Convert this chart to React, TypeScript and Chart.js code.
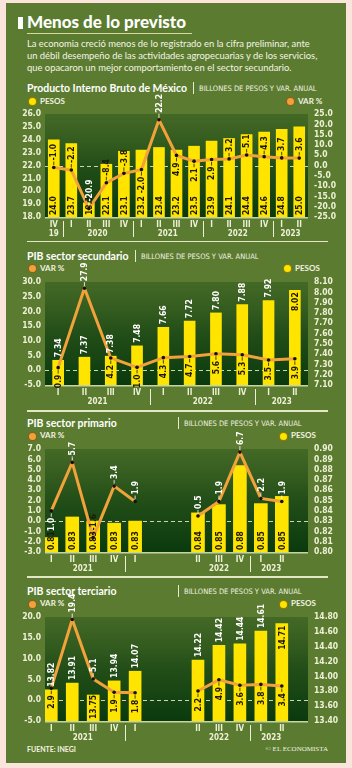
import React, { useEffect, useRef } from 'react';
import { Chart, registerables } from 'chart.js';
Chart.register(...registerables);

const W = 352;
const YELLOW = '#ffe400';
const ORANGE = '#f2a23a';
const PANEL = '#5b7c30';
const PINK = '#fae4dc';
const CREAM = '#eef0d6';
const DARK = '#1d1a08';
const NARROW = "'Liberation Sans Narrow', 'DejaVu Sans Condensed', 'Arial Narrow', sans-serif";
const LATO = "Lato, 'Open Sans', 'Noto Sans', sans-serif";

// ---------- PIB total ----------
const pibQuarters = ['IV', 'I', 'II', 'III', 'IV', 'I', 'II', 'III', 'IV', 'I', 'II', 'III', 'IV', 'I', 'II'];
const pibYears = ['19', '2020', '2021', '2022', '2023'];
const pibYearFrom = [0, 1, 5, 9, 13];
const pibYearTo = [0, 4, 8, 12, 14];
const pibSeparators = [0.5, 4.5, 8.5, 12.5];
const pibPesos = [24.0, 23.7, 19.1, 22.1, 23.1, 23.2, 23.4, 23.2, 23.5, 23.9, 24.1, 24.4, 24.6, 24.8, 25.0];
const pibVar = [-1.0, -2.2, -20.9, -8.4, -3.8, -2.0, 22.2, 4.9, 2.1, 2.9, 3.2, 5.1, 4.3, 3.7, 3.6];
const pibPesosTicks = [18, 26, 1];
const pibVarTicks = [-25, 25, 5];

// ---------- Secundario ----------
const secQuarters = ['I', 'II', 'III', 'IV', 'I', 'II', 'III', 'IV', 'I', 'II'];
const secYears = ['2021', '2022', '2023'];
const secYearFrom = [0, 4, 8];
const secYearTo = [3, 7, 9];
const secSeparators = [3.5, 7.5];
const secPesos = [7.34, 7.37, 7.38, 7.48, 7.66, 7.72, 7.80, 7.88, 7.92, 8.02];
const secVar = [0.9, 27.9, 4.2, 1.0, 4.3, 4.7, 5.6, 5.3, 3.5, 3.9];
const secVarTicks = [-5, 30, 5];
const secPesosTicks = [7.1, 8.1, 0.1];

// ---------- Primario ----------
const priQuarters = ['I', 'II', 'III', 'IV', 'I', 'II', 'III', 'IV', 'I', 'II'];
const priSlots = [0, 1, 2, 3, 4, 7, 8, 9, 10, 11];
const priYears = ['2021', '2022', '2023'];
const priYearFrom = [0, 7, 10];
const priYearTo = [3, 9, 11];
const priSeparators = [3.5, 9.5];
const priPesos = [0.814, 0.834, 0.830, 0.828, 0.830, 0.838, 0.846, 0.884, 0.847, 0.854];
const priVar = [1.0, 5.7, -1.6, 3.4, 1.9, 0.5, 1.9, 6.7, 2.2, 1.9];
const priVarTicks = [-3, 7, 1];
const priPesosTicks = [0.8, 0.9, 0.01];

// ---------- Terciario ----------
const terQuarters = ['I', 'II', 'III', 'IV', 'I', 'II', 'III', 'IV', 'I', 'II'];
const terSlots = [0, 1, 2, 3, 4, 7, 8, 9, 10, 11];
const terYears = ['2021', '2022', '2023'];
const terYearFrom = [0, 7, 10];
const terYearTo = [3, 9, 11];
const terSeparators = [3.5, 9.5];
const terPesos = [13.82, 13.91, 13.75, 13.94, 14.07, 14.22, 14.42, 14.44, 14.61, 14.71];
const terVar = [2.9, 19.4, 5.1, 1.9, 1.8, 2.2, 4.9, 3.6, 3.8, 3.4];
const terVarTicks = [-5, 20, 5];
const terPesosTicks = [13.4, 14.8, 0.2];

const slotRange: [number, number] = [-0.3, 12.25];

type Cfg = {
  top: number; plotH: number;
  quarters: string[]; slots: number[] | null;
  years: string[]; yearFrom: number[]; yearTo: number[]; seps: number[];
  pesos: number[]; pesosDec: number; pesosTicks: number[]; pesosSide: 'left' | 'right';
  vari: number[]; varTicks: number[];
  barW: number; barPos: string[]; varPos: string[];
};

const cfgs: Cfg[] = [
  {
    top: 114, plotH: 103, quarters: pibQuarters, slots: null,
    years: pibYears, yearFrom: pibYearFrom, yearTo: pibYearTo, seps: pibSeparators,
    pesos: pibPesos, pesosDec: 1, pesosTicks: pibPesosTicks, pesosSide: 'left',
    vari: pibVar, varTicks: pibVarTicks, barW: 11,
    barPos: pibPesos.map(() => 'base'),
    varPos: ['above', 'above', 'above', 'above', 'above', 'below', 'above', 'below', 'below', 'below', 'above', 'above', 'above', 'above', 'above'],
  },
  {
    top: 282, plotH: 103, quarters: secQuarters, slots: null,
    years: secYears, yearFrom: secYearFrom, yearTo: secYearTo, seps: secSeparators,
    pesos: secPesos, pesosDec: 2, pesosTicks: secPesosTicks, pesosSide: 'right',
    vari: secVar, varTicks: secVarTicks, barW: 11,
    barPos: ['above', 'above', 'above', 'above', 'above', 'above', 'above', 'above', 'above', 'top'],
    varPos: ['below', 'above', 'below', 'below', 'below', 'below', 'below', 'below', 'below', 'below'],
  },
  {
    top: 449, plotH: 103, quarters: priQuarters, slots: priSlots,
    years: priYears, yearFrom: priYearFrom, yearTo: priYearTo, seps: priSeparators,
    pesos: priPesos, pesosDec: 2, pesosTicks: priPesosTicks, pesosSide: 'right',
    vari: priVar, varTicks: priVarTicks, barW: 13,
    barPos: priPesos.map(() => 'base'),
    varPos: ['below', 'above', 'above', 'above', 'above', 'above', 'above', 'above', 'above', 'above'],
  },
  {
    top: 617, plotH: 104, quarters: terQuarters, slots: terSlots,
    years: terYears, yearFrom: terYearFrom, yearTo: terYearTo, seps: terSeparators,
    pesos: terPesos, pesosDec: 2, pesosTicks: terPesosTicks, pesosSide: 'right',
    vari: terVar, varTicks: terVarTicks, barW: 12,
    barPos: ['above', 'above', 'base', 'above', 'above', 'above', 'above', 'above', 'above', 'top'],
    varPos: ['below', 'above', 'above', 'below', 'below', 'below', 'below', 'below', 'below', 'below'],
  },
];

const PAD_T = 30;
const PAD_B = 28;

function vText(ctx: CanvasRenderingContext2D, txt: string, x: number, y: number, align: CanvasTextAlign, color: string) {
  ctx.save();
  ctx.translate(x, y);
  ctx.rotate(-Math.PI / 2);
  ctx.textAlign = align;
  ctx.textBaseline = 'middle';
  ctx.fillStyle = color;
  ctx.fillText(txt, 0, 0.5);
  ctx.restore();
}

function makePlugin(s: Cfg) {
  return {
    id: 'deco',
    beforeDraw(chart: any) {
      const { ctx, chartArea: a } = chart;
      ctx.save();
      const g = ctx.createLinearGradient(0, a.top, 0, a.bottom);
      g.addColorStop(0, 'rgba(40,82,26,0.45)');
      g.addColorStop(0.5, 'rgba(20,66,18,0.8)');
      g.addColorStop(1, '#0a3a0e');
      ctx.fillStyle = g;
      ctx.fillRect(a.left, a.top, a.right - a.left, a.bottom - a.top);
      ctx.restore();
    },
    beforeDatasetsDraw(chart: any) {
      const { ctx, chartArea: a } = chart;
      const y0 = Math.round(chart.scales.yV.getPixelForValue(0)) + 0.5;
      ctx.save();
      ctx.strokeStyle = '#c9d6ae';
      ctx.lineWidth = 1;
      ctx.setLineDash([4, 3]);
      ctx.beginPath();
      ctx.moveTo(a.left, y0);
      ctx.lineTo(a.right, y0);
      ctx.stroke();
      ctx.restore();
    },
    afterDatasetsDraw(chart: any) {
      const { ctx, chartArea: a } = chart;
      const barMeta = chart.getDatasetMeta(0);
      const lineMeta = chart.getDatasetMeta(1);
      ctx.save();
      // bottom axis line
      ctx.strokeStyle = '#c8d5a0';
      ctx.lineWidth = 1.5;
      ctx.beginPath();
      ctx.moveTo(a.left, a.bottom + 0.75);
      ctx.lineTo(a.right, a.bottom + 0.75);
      ctx.stroke();

      ctx.font = `bold 8.5px ${NARROW}`;
      const pick = (lo: number, hi: number, bar: any) => {
        const top = bar.y;
        const base = Math.min(bar.base, a.bottom);
        const ov = Math.max(0, Math.min(hi, base) - Math.max(lo, top));
        return ov > (hi - lo) / 2 ? DARK : '#ffffff';
      };
      s.pesos.forEach((v, i) => {
        const el = barMeta.data[i];
        const txt = v.toFixed(s.pesosDec);
        const w = ctx.measureText(txt).width;
        const base = Math.min(el.base, a.bottom);
        const pos = s.barPos[i];
        let y0: number, lo: number, hi: number, align: CanvasTextAlign;
        if (pos === 'base') { y0 = base - 2; lo = y0 - w; hi = y0; align = 'left'; }
        else if (pos === 'above') { y0 = el.y - 3; lo = y0 - w; hi = y0; align = 'left'; }
        else { y0 = el.y + 2; lo = y0; hi = y0 + w; align = 'right'; }
        vText(ctx, txt, el.x, y0, align, pick(lo, hi, el));
      });
      s.vari.forEach((v, i) => {
        const p = lineMeta.data[i];
        const bar = barMeta.data[i];
        const txt = v.toFixed(1);
        const w = ctx.measureText(txt).width;
        let y0: number, lo: number, hi: number, align: CanvasTextAlign, l1: number, l2: number;
        if (s.varPos[i] === 'above') { l1 = p.y - 2.5; l2 = p.y - 6; y0 = p.y - 7; lo = y0 - w; hi = p.y - 2; align = 'left'; }
        else { l1 = p.y + 2.5; l2 = p.y + 6; y0 = p.y + 7; lo = p.y + 2; hi = y0 + w; align = 'right'; }
        const col = pick(lo, hi, bar);
        ctx.strokeStyle = col;
        ctx.lineWidth = 0.8;
        ctx.beginPath();
        ctx.moveTo(p.x, l1);
        ctx.lineTo(p.x, l2);
        ctx.stroke();
        vText(ctx, txt, p.x, y0, align, col);
      });

      // x labels
      const xs = chart.scales.x;
      const b = a.bottom;
      ctx.font = `bold 8px ${NARROW}`;
      ctx.fillStyle = CREAM;
      ctx.textAlign = 'center';
      ctx.textBaseline = 'middle';
      s.quarters.forEach((q, i) => {
        const px = xs.getPixelForValue(s.slots ? s.slots[i] : i);
        ctx.fillText(q, px, b + 7.5);
      });
      s.years.forEach((yl, i) => {
        const px = xs.getPixelForValue((s.yearFrom[i] + s.yearTo[i]) / 2);
        ctx.fillText(yl, px, b + 16.5);
      });
      ctx.strokeStyle = CREAM;
      ctx.lineWidth = 1;
      s.seps.forEach((sp) => {
        const px = Math.round(xs.getPixelForValue(sp)) + 0.5;
        ctx.beginPath();
        ctx.moveTo(px, b + 4);
        ctx.lineTo(px, b + 20);
        ctx.stroke();
      });
      ctx.restore();
    },
  };
}

function ComboChart({ s }: { s: Cfg }) {
  const ref = useRef<HTMLCanvasElement>(null);
  const H = PAD_T + s.plotH + PAD_B;
  useEffect(() => {
    if (!ref.current) return;
    const barData = s.slots ? s.pesos.map((v, i) => ({ x: s.slots![i], y: v })) : s.pesos;
    const lineData = s.slots ? s.vari.map((v, i) => ({ x: s.slots![i], y: v })) : s.vari;
    const tickFont = { family: NARROW, size: 8.5, weight: 'bold' as const };
    const pDec = s.pesosDec;
    const yP: any = {
      position: s.pesosSide, min: s.pesosTicks[0], max: s.pesosTicks[1], beginAtZero: false,
      ticks: { stepSize: s.pesosTicks[2], autoSkip: false, color: CREAM, font: tickFont, padding: s.pesosSide === 'left' ? 4 : 6, callback: (v: any) => Number(v).toFixed(pDec) },
      grid: { display: false, drawTicks: false }, border: { display: false },
      afterFit: (sc: any) => { sc.width = s.pesosSide === 'left' ? 45 : 44; },
    };
    const yV: any = {
      position: s.pesosSide === 'left' ? 'right' : 'left', min: s.varTicks[0], max: s.varTicks[1], beginAtZero: false,
      ticks: { stepSize: s.varTicks[2], autoSkip: false, color: CREAM, font: tickFont, padding: s.pesosSide === 'left' ? 6 : 4, callback: (v: any) => Number(v).toFixed(1) },
      grid: { display: false, drawTicks: false }, border: { display: false },
      afterFit: (sc: any) => { sc.width = s.pesosSide === 'left' ? 44 : 45; },
    };
    const x: any = s.slots
      ? { type: 'linear', min: slotRange[0], max: slotRange[1], offset: false, display: false }
      : { type: 'category', offset: true, display: false };
    const chart = new Chart(ref.current, {
      type: 'bar',
      data: {
        labels: s.quarters,
        datasets: [
          {
            type: 'bar', data: barData as any, yAxisID: 'yP', backgroundColor: YELLOW,
            barThickness: s.barW, base: s.pesosTicks[0], order: 2, borderWidth: 0,
          } as any,
          {
            type: 'line', data: lineData as any, yAxisID: 'yV', borderColor: ORANGE, borderWidth: 3,
            pointRadius: 1.8, pointBackgroundColor: '#111111', pointBorderWidth: 0, tension: 0, order: 1,
            segment: { borderColor: (c: any) => (c.p1.parsed.x - c.p0.parsed.x > 1.5 ? 'rgba(0,0,0,0)' : ORANGE) },
          } as any,
        ],
      },
      options: {
        responsive: false,
        animation: false,
        devicePixelRatio: 1,
        layout: { padding: { top: PAD_T, bottom: PAD_B, left: 0, right: 0 } },
        plugins: { legend: { display: false }, tooltip: { enabled: false } },
        scales: { x, yP, yV },
      },
      plugins: [makePlugin(s)],
    });
    return () => chart.destroy();
  }, []);
  return (
    <canvas ref={ref} width={W} height={H}
      style={{ position: 'absolute', left: 0, top: s.top - PAD_T, width: W, height: H }} />
  );
}

function Txt(props: { x: number; y: number; s: number; w?: number; f?: string; c?: string; right?: boolean; ls?: number; children: any }) {
  const { x, y, s, w = 400, f = LATO, c = '#ffffff', right = false, ls = 0 } = props;
  return (
    <div style={{
      position: 'absolute', left: right ? undefined : x, right: right ? W - x : undefined,
      top: y - s * 0.6, fontSize: s, lineHeight: `${s * 1.2}px`, fontWeight: w, fontFamily: f,
      color: c, whiteSpace: 'nowrap', letterSpacing: ls,
    }}>{props.children}</div>
  );
}

function Dot({ x, y, c }: { x: number; y: number; c: string }) {
  return <div style={{ position: 'absolute', left: x - 4.5, top: y - 4.5, width: 9, height: 9, borderRadius: '50%', background: c, boxSizing: 'border-box', border: '1px solid rgba(60,40,0,0.55)' }} />;
}

function Legend({ y, pesosLeft, rightX }: { y: number; pesosLeft: boolean; rightX: number }) {
  const lc = pesosLeft ? YELLOW : ORANGE;
  const rc = pesosLeft ? ORANGE : YELLOW;
  const lt = pesosLeft ? 'PESOS' : 'VAR %';
  const rt = pesosLeft ? 'VAR %' : 'PESOS';
  return (
    <>
      <Dot x={32} y={y} c={lc} />
      <Txt x={40} y={y} s={8} w={700} c="#f4f2e2">{lt}</Txt>
      <Dot x={rightX} y={y} c={rc} />
      <Txt x={rightX + 8} y={y} s={8} w={700} c="#f4f2e2">{rt}</Txt>
    </>
  );
}

function Title({ y, title, barX }: { y: number; title: string; barX: number }) {
  return (
    <>
      <Txt x={27} y={y} s={10.5} w={700} c="#ffffff">{title}</Txt>
      <div style={{ position: 'absolute', left: barX, top: y - 6, width: 1, height: 12, background: '#e8ead0' }} />
      <Txt x={barX + 6} y={y + 0.5} s={7.5} f={NARROW} c="#f0efe0">BILLONES DE PESOS Y VAR. ANUAL</Txt>
    </>
  );
}

function Sep({ y }: { y: number }) {
  return <div style={{ position: 'absolute', left: 27, top: y - 0.75, width: 301, height: 1.5, background: '#e3e7c4' }} />;
}

export default function App() {
  return (
    <div style={{ position: 'absolute', left: 0, top: 0, width: W, height: 768, background: PINK, overflow: 'hidden' }}>
      <div style={{ position: 'absolute', left: 6, top: 3, width: 340, height: 760, background: PANEL }} />
      <div style={{ position: 'absolute', left: 18, top: 17, width: 5, height: 12, background: '#ffffff' }} />
      <Txt x={27} y={22.5} s={17} w={900} c="#ffffff">Menos de lo previsto</Txt>
      <div style={{ position: 'absolute', left: 27, top: 32.5, width: 165, height: 1.5, background: '#d5d99e' }} />
      <Txt x={27} y={44} s={9.4} c="#f5f3e6">La economia creció menos de lo registrado en la cifra preliminar, ante</Txt>
      <Txt x={27} y={56} s={9.4} c="#f5f3e6">un débil desempeño de las actividades agropecuarias y de los servicios,</Txt>
      <Txt x={27} y={67.7} s={9.4} c="#f5f3e6">que opacaron un mejor comportamiento en el sector secundario.</Txt>

      <Title y={88} title="Producto Interno Bruto de México" barX={193} />
      <Legend y={101.5} pesosLeft={true} rightX={290} />
      <Sep y={241.7} />

      <Title y={256} title="PIB sector secundario" barX={135} />
      <Legend y={268.5} pesosLeft={false} rightX={287} />
      <Sep y={411} />

      <Title y={423} title="PIB sector primario" barX={178} />
      <Legend y={436} pesosLeft={false} rightX={283} />
      <Sep y={577} />

      <Title y={591} title="PIB sector terciario" barX={178} />
      <Legend y={604} pesosLeft={false} rightX={283} />

      <Txt x={27} y={749.5} s={7} w={700} c="#f4f2e2">FUENTE: INEGI</Txt>
      <Txt x={328} y={749.5} s={7} f="'Liberation Serif', 'DejaVu Serif', serif" c="#f4f2e2" right={true}>© EL ECONOMISTA</Txt>

      {cfgs.map((s, i) => <ComboChart key={i} s={s} />)}
    </div>
  );
}
